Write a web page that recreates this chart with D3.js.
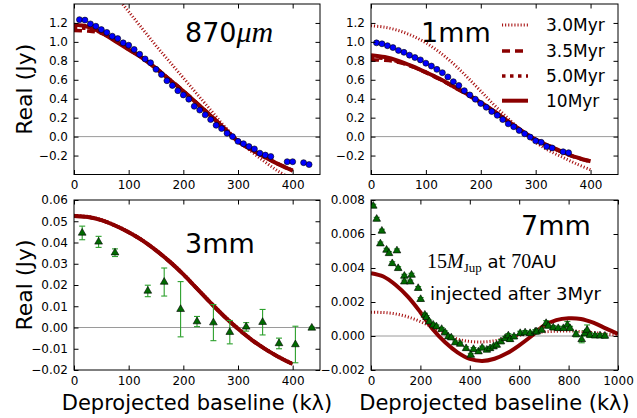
<!DOCTYPE html>
<html><head><meta charset="utf-8">
<script src="https://cdn.jsdelivr.net/npm/d3@7"></script>
<style>
body{margin:0;background:#fff}
svg{display:block}
text{font-family:"DejaVu Sans",sans-serif;fill:#000}
</style>
</head><body>
<svg id="c" width="637" height="418"></svg>
<script>
// ---------- data ----------
const xTicks400 = [0,100,200,300,400];
const xTicks1000 = [0,200,400,600,800,1000];
const yTicksTop = [-0.2,0,0.2,0.4,0.6,0.8,1.0,1.2];
const yTicks3mm = [-0.02,-0.01,0,0.01,0.02,0.03,0.04,0.05,0.06];
const yTicks7mm = [-0.002,0,0.002,0.004,0.006,0.008];

const legendLabels = ["3.0Myr","3.5Myr","5.0Myr","10Myr"];

// model baselines (kλ)
const modelX = [0,25,50,75,100,125,150,175,200,225,250,275,300,325,350,375,400];
const modelX7 = [0,50,100,150,200,250,300,350,400,450,500,550,600,650,700,750,800,850,900,950,1000];

// 870 micron
const x870 = [10,20,30,40,50,60,70,80,90,100,110,120,130,140,150,160,170,180,190,200,210,220,230,240,250,260,270,280,290,300,310,320,330,340,350,360,390,400,420,430];
const y870 = [1.235,1.23,1.19,1.165,1.13,1.10,1.06,1.035,0.99,0.965,0.92,0.87,0.82,0.78,0.71,0.655,0.59,0.54,0.485,0.44,0.395,0.32,0.28,0.23,0.18,0.12,0.085,0.035,0.0,-0.05,-0.075,-0.105,-0.13,-0.175,-0.195,-0.21,-0.265,-0.265,-0.275,-0.295];
const m870_30 = [1.88,1.82,1.68,1.50,1.32,1.14,0.96,0.79,0.62,0.45,0.28,0.11,-0.04,-0.16,-0.27,-0.37,-0.45];
const m870_35 = [1.12,1.115,1.09,1.02,0.925,0.835,0.725,0.605,0.485,0.355,0.225,0.09,-0.045,-0.135,-0.215,-0.29,-0.355];
const m870_50 = [1.15,1.14,1.095,1.015,0.92,0.83,0.72,0.60,0.48,0.35,0.22,0.085,-0.05,-0.14,-0.22,-0.295,-0.36];
const m870_10 = [1.18,1.16,1.10,1.01,0.92,0.83,0.72,0.60,0.48,0.35,0.22,0.085,-0.05,-0.14,-0.22,-0.295,-0.36];

// 1 mm
const x1mm = [10,20,30,40,50,60,70,80,90,100,110,120,130,140,150,160,170,180,190,200,210,220,230,240,250,260,270,280,290,300,310,320,330,350,360];
const y1mm = [0.99,0.98,0.96,0.94,0.91,0.89,0.86,0.835,0.81,0.775,0.745,0.71,0.675,0.63,0.58,0.54,0.485,0.44,0.395,0.35,0.31,0.265,0.225,0.18,0.135,0.105,0.065,0.03,-0.005,-0.045,-0.06,-0.105,-0.12,-0.16,-0.17];
const m1_30 = [1.17,1.155,1.12,1.065,0.99,0.89,0.77,0.63,0.48,0.33,0.19,0.06,-0.06,-0.15,-0.22,-0.29,-0.35];
const m1_35 = [0.81,0.805,0.785,0.74,0.675,0.605,0.525,0.445,0.355,0.26,0.155,0.055,-0.035,-0.105,-0.17,-0.225,-0.265];
const m1_50 = [0.83,0.825,0.79,0.74,0.68,0.61,0.53,0.45,0.36,0.265,0.16,0.06,-0.03,-0.10,-0.165,-0.22,-0.26];
const m1_10 = [0.86,0.84,0.80,0.745,0.68,0.61,0.53,0.45,0.36,0.265,0.16,0.06,-0.03,-0.10,-0.165,-0.22,-0.26];

// 3 mm
const x3mm = [15,45,75,135,165,195,225,255,285,315,345,375,405,435];
const y3mm = [0.0445,0.0403,0.0352,0.0172,0.0214,0.0086,0.0028,0.0023,-0.0022,0.0003,0.0025,-0.0075,-0.008,-0.0002];
const e3mm = [0.0032,0.0026,0.0018,0.0027,0.0066,0.013,0.0024,0.0085,0.0055,0.002,0.006,0.0025,0.0086,0.0004];
const m3_30 = [0.0528,0.0523,0.0508,0.0483,0.0451,0.0413,0.0366,0.0313,0.0253,0.0186,0.0119,0.0055,-0.0003,-0.0055,-0.0099,-0.0137,-0.0169];
const m3_35 = [0.0524,0.052,0.0505,0.048,0.0448,0.041,0.0363,0.031,0.025,0.0183,0.0116,0.0052,-0.0006,-0.0058,-0.0102,-0.014,-0.0172];
const m3_50 = [0.0525,0.052,0.0505,0.048,0.0448,0.041,0.0363,0.031,0.025,0.0183,0.0116,0.0052,-0.0006,-0.0058,-0.0102,-0.014,-0.0172];
const m3_10 = [0.0525,0.052,0.0505,0.048,0.0448,0.041,0.0363,0.031,0.025,0.0183,0.0116,0.0052,-0.0006,-0.0058,-0.0102,-0.014,-0.0172];

// 7 mm
const x7mm = [9,23,38,44,63,73,86,105,110,135,135,159,164,191,201,218,225,236,252,265,286,300,313,325,341,361,385,404,415,435,450,469,482,496,509,526,543,556,563,579,604,624,644,665,671,691,709,718,738,758,779,795,806,830,853,866,875,886,907,927,947];
const y7mm = [0.00765,0.00688,0.00543,0.00618,0.00506,0.00486,0.00427,0.00502,0.00398,0.00353,0.00319,0.00319,0.00359,0.00281,0.00216,0.00124,0.0011,0.00084,0.00065,0.00055,0.0004,0.0002,-0.00004,-0.0001,-0.00039,-0.00047,-0.00073,-0.00112,-0.00078,-0.00092,-0.0007,-0.00082,-0.00073,-0.00063,-0.00053,-0.00033,-0.00014,0.00002,-0.0002,-0.00004,0.00016,0.0002,0.00016,0.00025,0.00025,0.00035,0.00075,0.00059,0.00049,0.00045,0.00045,0.00065,0.00045,0.0001,-0.0002,0.00016,0.00035,0.00006,0.00002,0.00002,0.0];
const e7mm = [0.0001,0.0001,0.0001,0.0001,0.0001,0.0001,0.0001,0.0001,0.0001,0.0001,0.0001,0.0001,0.0001,0.0001,0.0001,0.0001,0.0001,0.0001,0.0001,0.0001,0.0001,0.0001,0.0001,0.0001,0.0001,0.0001,0.0001,0.0001,0.0001,0.0001,0.0001,0.0001,0.0001,0.0001,0.00012,0.00012,0.00012,0.00012,0.00012,0.00012,0.00012,0.00012,0.00012,0.00012,0.00012,0.00012,0.00015,0.00012,0.00012,0.00012,0.00012,0.0002,0.00012,0.00015,0.0002,0.00015,0.0003,0.00015,0.00012,0.00012,0.00012];
const m7_30 = [0.0014,0.00138,0.0013,0.00112,0.00085,0.0005,0.00012,-0.00018,-0.00032,-0.00035,-0.00028,-0.00012,0.00004,0.00015,0.00024,0.00028,0.0003,0.00026,0.0002,0.00012,0.00004];
const m7_10 = [0.0037,0.0035,0.003,0.0023,0.0014,0.0004,-0.00037,-0.00096,-0.00135,-0.00147,-0.00134,-0.00102,-0.00055,0.0,0.0006,0.00093,0.00104,0.001,0.00078,0.00045,0.00012];

// ---------- styles ----------
const RED = "#8b0000";
const lineStyles = [
  {w:3, dash:"1.1,2", color:"#a81414"},     // 3.0Myr dotted
  {w:3.5, dash:"8,5", color:RED},           // 3.5Myr dashed
  {w:3.5, dash:"3.5,4.5", color:RED},       // 5.0Myr coarse dots
  {w:4, dash:null, color:RED}               // 10Myr solid
];

const svg = d3.select("#c");
const fmt1 = v => d3.format(".1f")(v);
const fmt2 = v => d3.format(".2f")(v);
const fmt3 = v => d3.format(".3f")(v);

const panels = [
  {L:74,R:320,T:4,B:174.5, xd:[0,450], yd:[-0.4,1.4], xt:xTicks400, yt:yTicksTop, yf:fmt1,
   models:[[modelX,m870_30,0],[modelX,m870_35,1],[modelX,m870_50,2],[modelX,m870_10,3]],
   dots:{x:x870,y:y870}},
  {L:371,R:618,T:4,B:174.5, xd:[0,450], yd:[-0.4,1.4], xt:xTicks400, yt:yTicksTop, yf:fmt1,
   models:[[modelX,m1_30,0],[modelX,m1_35,1],[modelX,m1_50,2],[modelX,m1_10,3]],
   dots:{x:x1mm,y:y1mm}},
  {L:74,R:320,T:200,B:370, xd:[0,450], yd:[-0.02,0.06], xt:xTicks400, yt:yTicks3mm, yf:fmt2,
   models:[[modelX,m3_30,0],[modelX,m3_35,1],[modelX,m3_50,2],[modelX,m3_10,3]],
   tris:{x:x3mm,y:y3mm,e:e3mm}, xlabel:true},
  {L:371,R:618,T:200,B:370, xd:[0,1000], yd:[-0.002,0.008], xt:xTicks1000, yt:yTicks7mm, yf:fmt3,
   models:[[modelX7,m7_30,0],[modelX7,m7_10,3]],
   tris:{x:x7mm,y:y7mm,e:e7mm}, xlabel:true}
];

panels.forEach((p,i)=>{
  const x = d3.scaleLinear().domain(p.xd).range([p.L,p.R]);
  const y = d3.scaleLinear().domain(p.yd).range([p.B,p.T]);
  const g = svg.append("g");
  const cid = "clip"+i;
  svg.append("clipPath").attr("id",cid).append("rect")
    .attr("x",p.L).attr("y",p.T).attr("width",p.R-p.L).attr("height",p.B-p.T);
  const pg = g.append("g").attr("clip-path",`url(#${cid})`);
  // zero line
  pg.append("line").attr("x1",p.L).attr("x2",p.R).attr("y1",y(0)).attr("y2",y(0))
    .attr("stroke","#9a9a9a").attr("stroke-width",1);
  // models
  p.models.forEach(([mx,my,si])=>{
    const st = lineStyles[si];
    const line = d3.line().x((d,k)=>x(mx[k])).y(d=>y(d)).curve(d3.curveCatmullRom);
    pg.append("path").attr("d",line(my)).attr("fill","none")
      .attr("stroke",st.color).attr("stroke-width",st.w)
      .attr("stroke-dasharray",st.dash);
  });
  // blue dots
  if(p.dots){
    pg.selectAll(null).data(p.dots.x).enter().append("circle")
      .attr("cx",d=>x(d)).attr("cy",(d,k)=>y(p.dots.y[k])).attr("r",3)
      .attr("fill","#0000ff").attr("stroke","#000").attr("stroke-width",0.6);
  }
  // triangles with error bars
  if(p.tris){
    const t = p.tris;
    t.x.forEach((xv,k)=>{
      const yv=t.y[k], ev=t.e[k];
      const eg = pg.append("g").attr("stroke","#2ca02c").attr("stroke-width",1.1);
      eg.append("line").attr("x1",x(xv)).attr("x2",x(xv)).attr("y1",y(yv-ev)).attr("y2",y(yv+ev));
      eg.append("line").attr("x1",x(xv)-3).attr("x2",x(xv)+3).attr("y1",y(yv-ev)).attr("y2",y(yv-ev));
      eg.append("line").attr("x1",x(xv)-3).attr("x2",x(xv)+3).attr("y1",y(yv+ev)).attr("y2",y(yv+ev));
    });
    pg.selectAll(null).data(t.x).enter().append("path")
      .attr("d",d3.symbol().type(d3.symbolTriangle).size(26))
      .attr("transform",(d,k)=>`translate(${x(d)},${y(t.y[k])})`)
      .attr("fill","#006a00").attr("stroke","#000").attr("stroke-width",0.6);
  }
  // axes with inward ticks
  const styleAxis = a => { a.select(".domain").remove(); a.selectAll(".tick line").attr("stroke","#000");
    a.selectAll("text").style("font-size","12px").style("font-family","DejaVu Sans"); };
  g.append("g").attr("transform",`translate(0,${p.B})`)
    .call(d3.axisBottom(x).tickValues(p.xt).tickSize(-4.5).tickPadding(6).tickFormat(d3.format("d"))).call(styleAxis);
  g.append("g").attr("transform",`translate(0,${p.T})`)
    .call(d3.axisTop(x).tickValues(p.xt).tickSize(-4.5).tickFormat("")).call(styleAxis);
  g.append("g").attr("transform",`translate(${p.L},0)`)
    .call(d3.axisLeft(y).tickValues(p.yt).tickSize(-4.5).tickPadding(6).tickFormat(p.yf)).call(styleAxis);
  g.append("g").attr("transform",`translate(${p.R},0)`)
    .call(d3.axisRight(y).tickValues(p.yt).tickSize(-4.5).tickFormat("")).call(styleAxis);
  // frame
  g.append("rect").attr("x",p.L).attr("y",p.T).attr("width",p.R-p.L).attr("height",p.B-p.T)
    .attr("fill","none").attr("stroke","#000").attr("stroke-width",1);
  if(p.xlabel){
    g.append("text").attr("x",(p.L+p.R)/2).attr("y",410).attr("text-anchor","middle")
      .style("font-size","21px").text("Deprojected baseline (kλ)");
  }
  if(i===0 || i===2){
    g.append("text").attr("transform",`translate(32,${(p.T+p.B)/2}) rotate(-90)`)
      .attr("text-anchor","middle").style("font-size","22px").text("Real (Jy)");
  }
});

// panel labels
const t870 = svg.append("text").attr("x",185).attr("y",41.5).style("font-size","27px");
t870.append("tspan").text("870");
t870.append("tspan").style("font-family","Liberation Serif, DejaVu Serif, serif").style("font-style","italic").style("font-size","30px").text("μm");
svg.append("text").attr("x",421).attr("y",41.5).style("font-size","27px").text("1mm");
svg.append("text").attr("x",185).attr("y",253).style("font-size","27px").text("3mm");
svg.append("text").attr("x",521).attr("y",235).style("font-size","27px").text("7mm");

// annotation
const serif = "Liberation Serif, DejaVu Serif, serif";
const an = svg.append("text").attr("x",427).attr("y",268).style("font-size","18px");
an.append("tspan").style("font-family",serif).style("font-size","20px").text("15");
an.append("tspan").style("font-family",serif).style("font-style","italic").style("font-size","20px").text("M");
an.append("tspan").style("font-family",serif).style("font-size","13px").attr("dy",4).text("Jup");
an.append("tspan").attr("dy",-4).text(" at ");
an.append("tspan").style("font-family",serif).style("font-size","20px").text("70");
an.append("tspan").text("AU");
svg.append("text").attr("x",430).attr("y",300).style("font-size","18px").text("injected after 3Myr");

// legend
const legY = [25,51,76,100.7];
legendLabels.forEach((lab,k)=>{
  const st = lineStyles[k];
  svg.append("line").attr("x1",502).attr("x2",528).attr("y1",legY[k]).attr("y2",legY[k])
    .attr("stroke",st.color).attr("stroke-width",st.w).attr("stroke-dasharray",st.dash);
  svg.append("text").attr("x",546).attr("y",legY[k]).attr("dy","0.36em")
    .style("font-size","17px").text(lab);
});
</script>
</body></html>
